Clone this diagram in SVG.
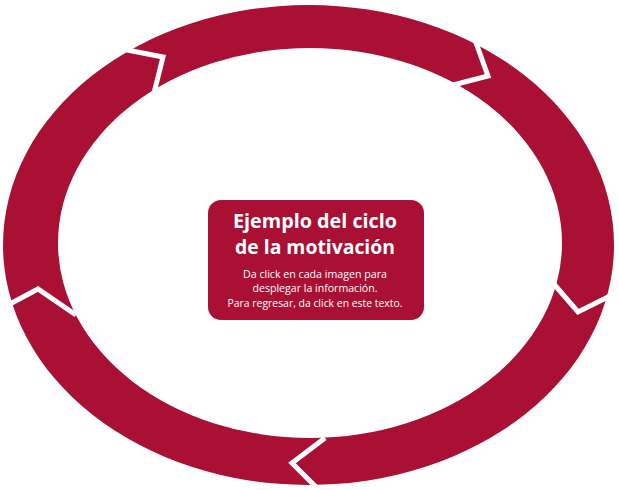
<svg xmlns="http://www.w3.org/2000/svg" width="619" height="490" viewBox="0 0 619 490">
  <style>
    .ring { fill: #A91033; fill-rule: evenodd; }
    .sep { fill: none; stroke: #FFFFFF; stroke-width: 5; stroke-linejoin: miter; stroke-miterlimit: 10; }
    .box { fill: #A91033; }
    .title { font-family: "Open Sans", "Liberation Sans", sans-serif; font-weight: bold; font-size: 19px; fill: #FFFFFF; text-anchor: middle; }
    .body { font-family: "Open Sans", "Liberation Sans", sans-serif; font-size: 10.5px; fill: #FFFFFF; text-anchor: middle; }
  </style>
  <rect width="619" height="490" fill="#FFFFFF"/>
  <g id="cycle-ring">
    <path class="ring" d="M3,245 a305.5,240 0 1,0 611,0 a305.5,240 0 1,0 -611,0 Z M58,243 a252,195 0 1,0 504,0 a252,195 0 1,0 -504,0 Z"/>
  </g>
  <g id="connectors">
    <polyline class="sep" points="122,49 163,57 154,93"/>
    <polyline class="sep" points="475,40 488,76 453,85"/>
    <polyline class="sep" points="553,283 578,312 612,295"/>
    <polyline class="sep" points="325,438 292,463 318,489"/>
    <polyline class="sep" points="8,305 38,289 76,315"/>
  </g>
  <g id="center">
    <rect class="box" x="208" y="200" width="216" height="120" rx="13" ry="13"/>
    <text class="title" x="315" y="228" textLength="164" lengthAdjust="spacingAndGlyphs">Ejemplo del ciclo</text>
    <text class="title" x="315" y="254" textLength="160" lengthAdjust="spacingAndGlyphs">de la motivación</text>
    <text class="body" x="315" y="278" textLength="144" lengthAdjust="spacingAndGlyphs">Da click en cada imagen para</text>
    <text class="body" x="315" y="292" textLength="125" lengthAdjust="spacingAndGlyphs">desplegar la información.</text>
    <text class="body" x="315" y="307" textLength="175" lengthAdjust="spacingAndGlyphs">Para regresar, da click en este texto.</text>
  </g>
</svg>
